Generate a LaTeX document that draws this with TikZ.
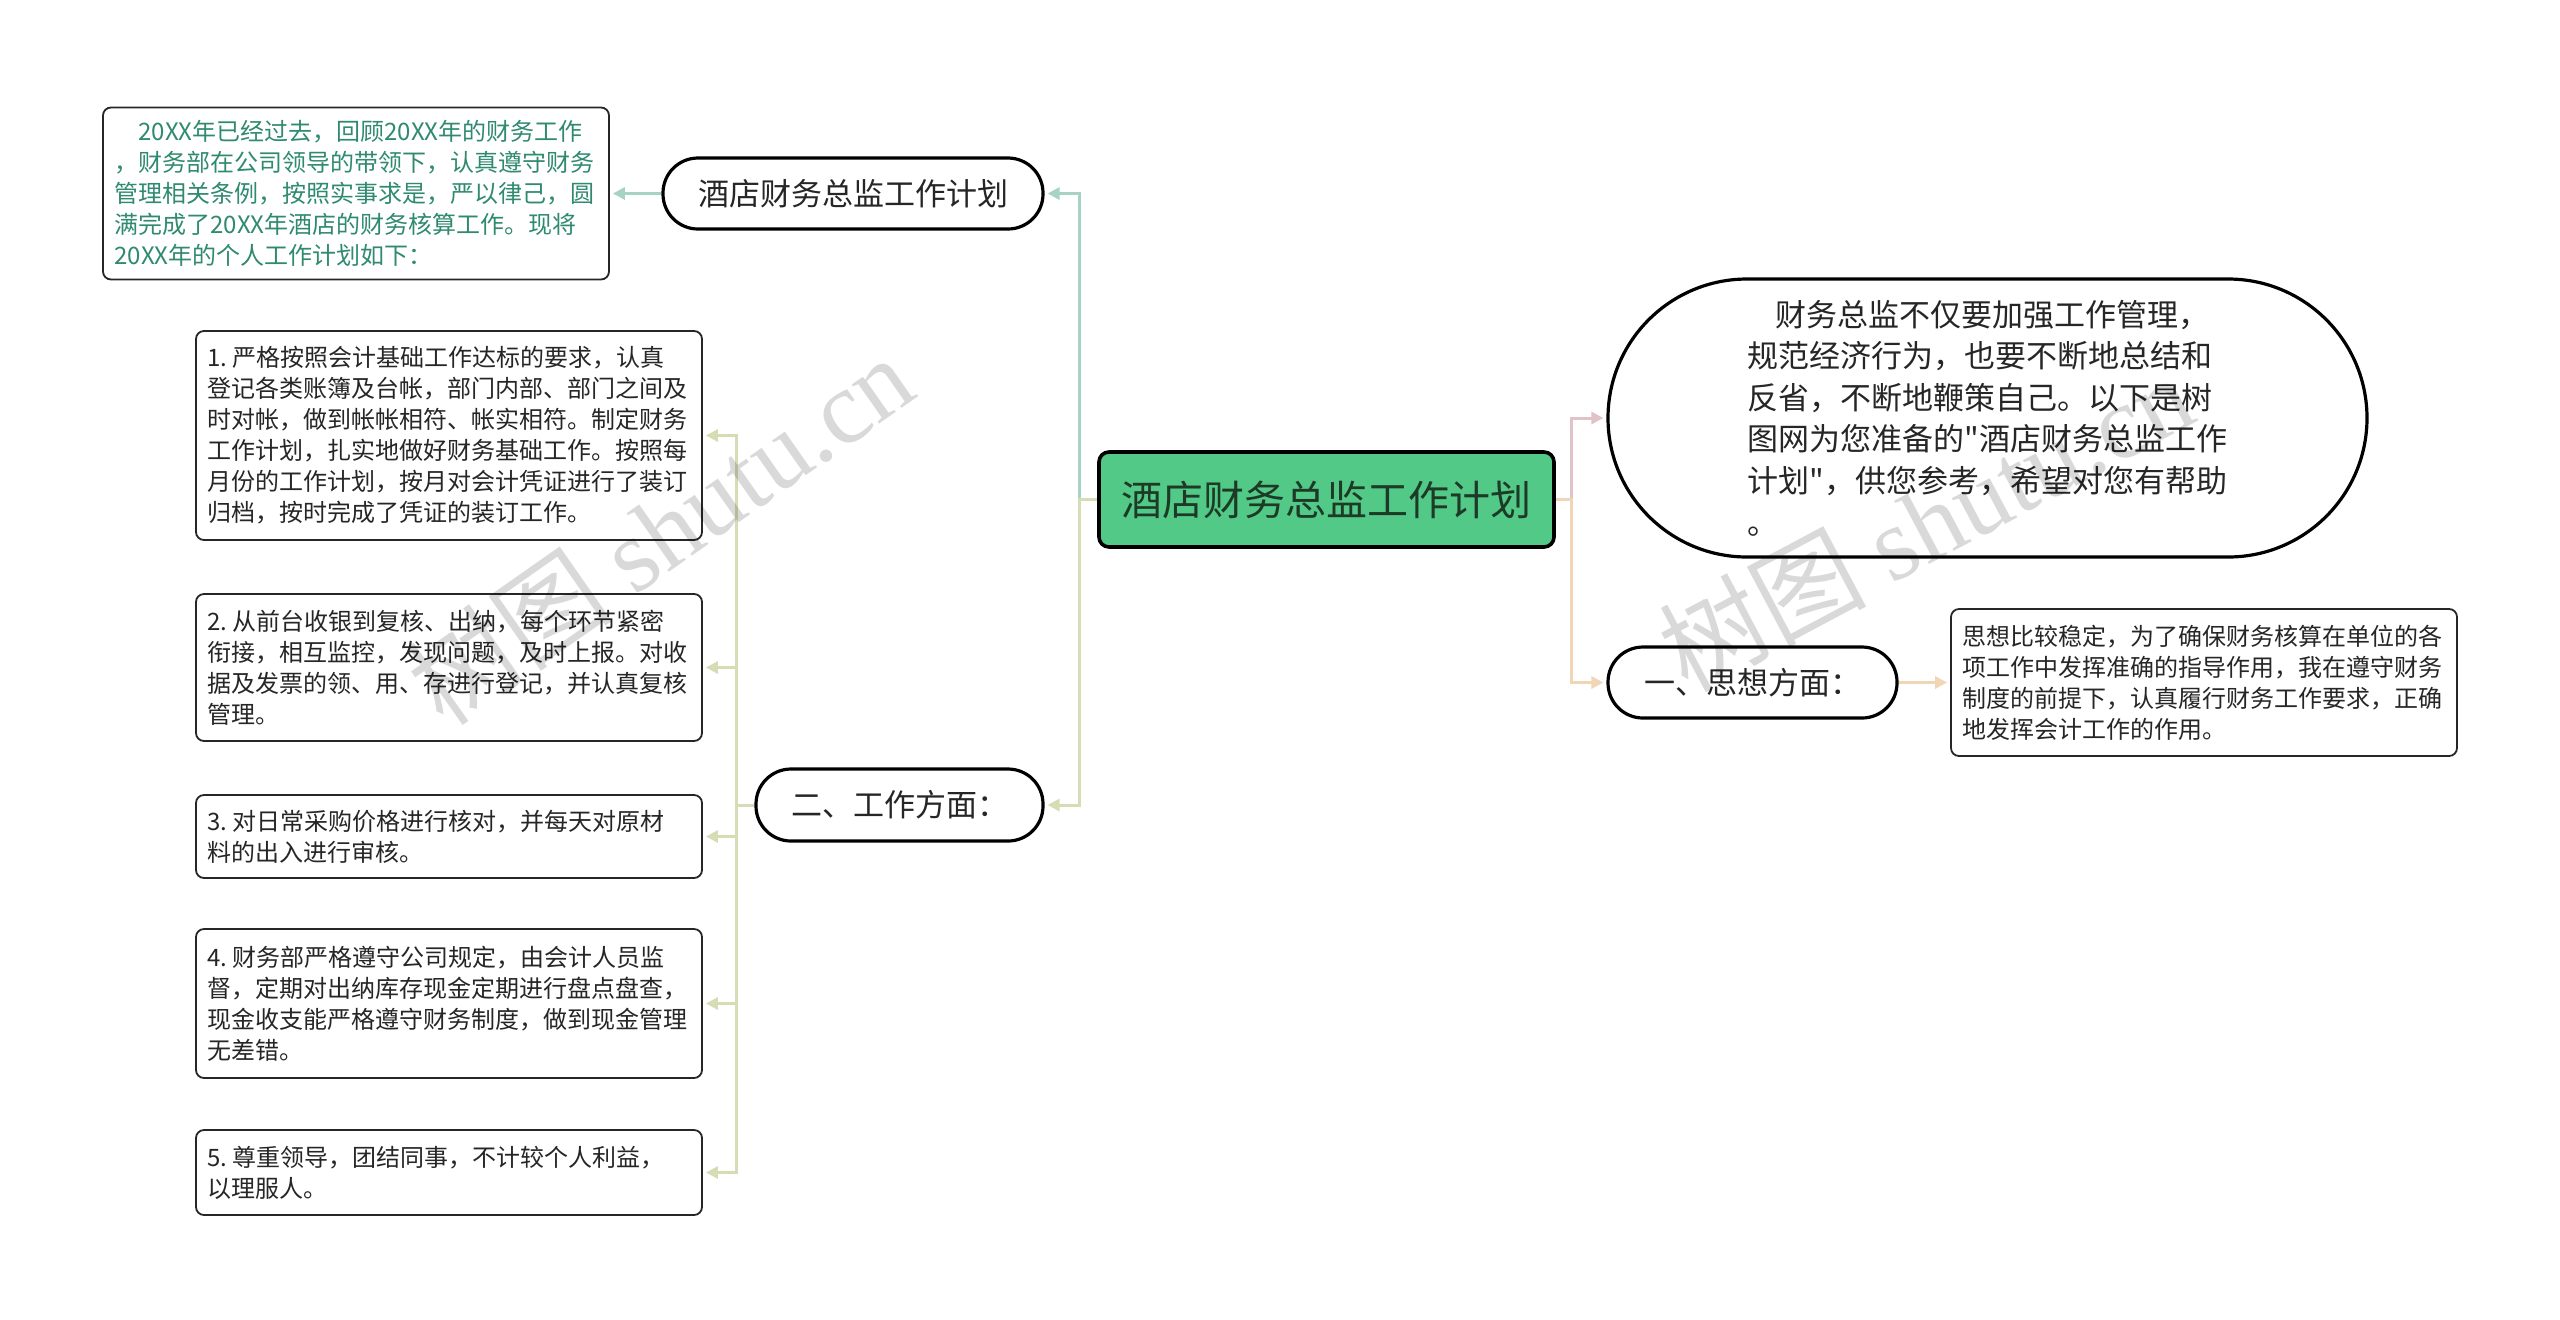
\documentclass[tikz,border=0pt]{standalone}
\usepackage{fontspec}
\setmainfont{Noto Sans CJK SC}
\newfontfamily\plainq{Noto Sans CJK SC}
\newfontfamily\wmlatin{Liberation Serif}
\usetikzlibrary{arrows.meta}
\definecolor{tealc}{HTML}{A6D3C6}
\definecolor{olivec}{HTML}{D6DDB4}
\definecolor{pinkc}{HTML}{E0C3C8}
\definecolor{peachc}{HTML}{F0D6B6}
\definecolor{tealtext}{HTML}{2F8A70}
\definecolor{centralfill}{HTML}{52C987}
\definecolor{centraltext}{HTML}{1D3A26}
\newcommand{\nsp}{\hspace{0.22em}}
\begin{document}
\begin{tikzpicture}[x=0.5pt,y=-0.5pt,
  pillbox/.style={draw=black, line width=1.6pt, fill=white, rounded corners=17.5pt,
    minimum height=35.5pt, inner sep=0pt, text=black!85,
    font=\fontsize{15.5}{20}\selectfont},
  textbox/.style={draw=black!85, line width=0.9pt, fill=white, rounded corners=4pt,
    align=left, inner xsep=5.7pt, inner ysep=0pt, text width=241.6pt, text=black!85,
    font=\fontsize{12}{15.5}\selectfont},
  centralbox/.style={draw=black, line width=1.8pt, fill=centralfill, rounded corners=5pt,
    minimum width=227.5pt, minimum height=47.5pt, inner sep=0pt, text=centraltext,
    font=\fontsize{20.5}{24}\selectfont},
  con/.style={line width=1.5pt, -{Triangle[length=6pt,width=6pt]}, shorten >=1.5pt},
  seg/.style={line width=1.5pt},
  wmark/.style={text=black, opacity=0.15, font=\fontsize{52}{58}\selectfont}]
\useasboundingbox (0,0) rectangle (2560,1319);

% nodes
\node[textbox, minimum height=86pt, text=tealtext] (tl) at (356,193.5)
 {\hspace{1em}20XX年已经过去，回顾20XX年的财务工作\\
  ，财务部在公司领导的带领下，认真遵守财务\\
  管理相关条例，按照实事求是，严以律己，圆\\
  满完成了20XX年酒店的财务核算工作。现将\\
  20XX年的个人工作计划如下：};
\node[pillbox, minimum width=190pt] (p1) at (853,193.5) {酒店财务总监工作计划};
\node[centralbox] (c) at (1326.5,499.5) {酒店财务总监工作计划};
\node[pillbox, minimum width=379.5pt, minimum height=139pt, rounded corners=69.5pt,
  align=left, font=\fontsize{15.5}{20.8}\selectfont] (bp) at (1987.5,418)
 {\hspace{0.9em}财务总监不仅要加强工作管理，\\
  规范经济行为，也要不断地总结和\\
  反省，不断地鞭策自己。以下是树\\
  图网为您准备的{\plainq"}酒店财务总监工作\\
  计划{\plainq"}，供您参考，希望对您有帮助\\
  。};
\node[pillbox, minimum width=144.5pt] (p3) at (1752.5,682.5) {一、思想方面：};
\node[textbox, minimum height=73.5pt] (rb) at (2204,682.5)
 {思想比较稳定，为了确保财务核算在单位的各\\
  项工作中发挥准确的指导作用，我在遵守财务\\
  制度的前提下，认真履行财务工作要求，正确\\
  地发挥会计工作的作用。};
\node[pillbox, minimum width=143.5pt, minimum height=36pt] (p2) at (899.5,805) {二、工作方面：};
\node[textbox, minimum height=104.5pt] (b1) at (449,435.5)
 {1.\nsp{}严格按照会计基础工作达标的要求，认真\\
  登记各类账簿及台帐，部门内部、部门之间及\\
  时对帐，做到帐帐相符、帐实相符。制定财务\\
  工作计划，扎实地做好财务基础工作。按照每\\
  月份的工作计划，按月对会计凭证进行了装订\\
  归档，按时完成了凭证的装订工作。};
\node[textbox, minimum height=73.5pt] (b2) at (449,667.5)
 {2.\nsp{}从前台收银到复核、出纳，每个环节紧密\\
  衔接，相互监控，发现问题，及时上报。对收\\
  据及发票的领、用、存进行登记，并认真复核\\
  管理。};
\node[textbox, minimum height=41.5pt] (b3) at (449,836.5)
 {3.\nsp{}对日常采购价格进行核对，并每天对原材\\
  料的出入进行审核。};
\node[textbox, minimum height=74.5pt] (b4) at (449,1003.5)
 {4.\nsp{}财务部严格遵守公司规定，由会计人员监\\
  督，定期对出纳库存现金定期进行盘点盘查，\\
  现金收支能严格遵守财务制度，做到现金管理\\
  无差错。};
\node[textbox, minimum height=42.5pt] (b5) at (449,1172.5)
 {5.\nsp{}尊重领导，团结同事，不计较个人利益，\\
  以理服人。};

% junctions
\coordinate (jl) at (1079,499.5);
\coordinate (jb) at (736,805);
\coordinate (jr) at (1571,499.5);

% connectors
\draw[con, tealc] (c.west) -- (jl) |- (p1.east);
\draw[con, olivec] (c.west) -- (jl) |- (p2.east);
\draw[con, tealc] (p1.west) -- (tl.east);
\draw[seg, olivec] (p2.west) -- (jb);
\draw[con, olivec] (jb) |- (b1.east);
\draw[con, olivec] (jb) |- (b2.east);
\draw[con, olivec] (jb) |- (b3.east);
\draw[con, olivec] (jb) |- (b4.east);
\draw[con, olivec] (jb) |- (b5.east);
\draw[con, pinkc] (c.east) -- (jr) |- (bp.west);
\draw[con, peachc] (c.east) -- (jr) |- (p3.west);
\draw[con, peachc] (p3.east) -- (rb.west);

% watermarks
\node[wmark, rotate=35] (wm1) at (660,530) {树图 {\wmlatin shutu.cn}};
\node[wmark, rotate=28] (wm2) at (1925,522) {树图 {\wmlatin shutu.cn}};
\end{tikzpicture}
\end{document}
